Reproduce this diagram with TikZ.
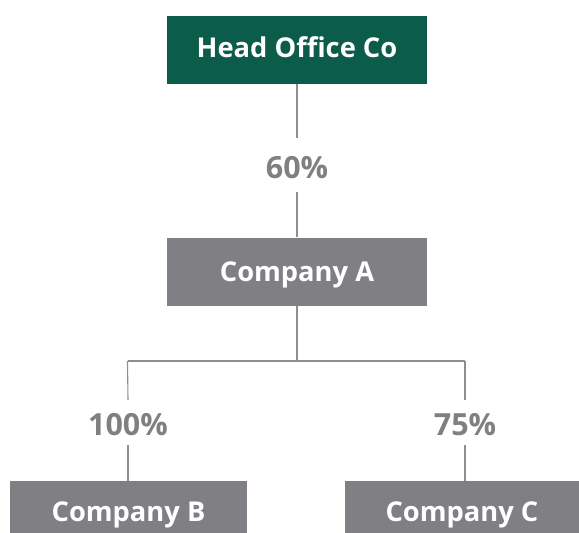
\documentclass[tikz,border=0pt]{standalone}
\usepackage{fontspec}
\setmainfont{Open Sans}
\definecolor{hgreen}{HTML}{0B5C4A}
\definecolor{bgray}{HTML}{808084}
\definecolor{tgray}{HTML}{808083}
\definecolor{lgray}{HTML}{8E8E90}
\begin{document}
\begin{tikzpicture}[x=1pt,y=1pt,
  box/.style={inner sep=0pt,minimum width=#1,text=white,text height=19.5pt,text depth=0pt,font=\fontsize{27.3}{30}\selectfont\bfseries},
  pct/.style={inner sep=0pt,minimum height=#1,text=tgray,text depth=0pt,font=\fontsize{30.5}{33}\selectfont\bfseries},
  conn/.style={draw=lgray,line width=1.1pt}]
\useasboundingbox (0,0) rectangle (579,-533);
\node[box=260pt,minimum height=68pt,fill=hgreen,text depth=3pt] (head) at (297,-49.5) {Head Office Co};
\node[box=260pt,minimum height=68pt,fill=bgray] (ca) at (297,-271.5) {Company A};
\node[box=237pt,minimum height=61pt,fill=bgray] (cb) at (128.5,-511.5) {Company B};
\node[box=234pt,minimum height=61pt,fill=bgray] (cc) at (462,-511.5) {Company C};
\node[pct=54pt,text height=27.8pt] (p60) at (297,-165) {60\%};
\node[pct=45pt,text height=26.8pt] (p100) at (128,-422.5) {100\%};
\node[pct=45pt,text height=26.8pt] (p75) at (465,-422.5) {75\%};
\coordinate (j) at (297,-361);
\coordinate (jl) at (127.5,-361);
\coordinate (jr) at (465,-361);
\draw[conn] (head.south) -- (p60.north);
\draw[conn] (p60.south) -- (ca.north);
\draw[conn] (ca.south) -- (j);
\draw[conn] (jl) -- (jr);
\draw[conn] (jl) -- (p100.north);
\draw[conn] (jr) -- (p75.north);
\draw[conn] (p100.south) -- (p100.south |- cb.north);
\draw[conn] (p75.south) -- (p75.south |- cc.north);
\end{tikzpicture}
\end{document}
